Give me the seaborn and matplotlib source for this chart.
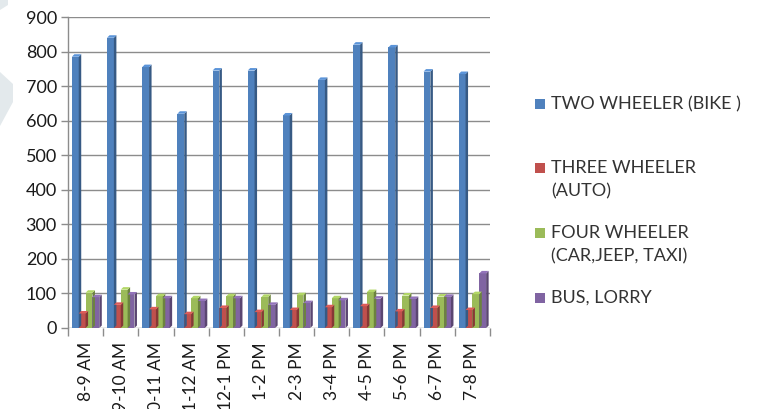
import matplotlib
matplotlib.use("Agg")
import matplotlib.pyplot as plt
import matplotlib.colors as mcolors
from matplotlib.patches import Polygon, Rectangle
import numpy as np
import pandas as pd
import seaborn as sns

# Hourly vehicle counts by vehicle type
time_slots = ["8-9 AM", "9-10 AM", "10-11 AM", "11-12 AM", "12-1 PM", "1-2 PM",
              "2-3 PM", "3-4 PM", "4-5 PM", "5-6 PM", "6-7 PM", "7-8 PM"]
series_names = ["TWO WHEELER (BIKE )", "THREE WHEELER\n(AUTO)",
                "FOUR WHEELER\n(CAR,JEEP, TAXI)", "BUS, LORRY"]
two_wheeler = [785, 840, 755, 620, 745, 745, 615, 718, 820, 812, 742, 735]
three_wheeler = [42, 67, 54, 40, 58, 46, 52, 60, 63, 48, 58, 52]
four_wheeler = [102, 111, 92, 86, 92, 90, 95, 86, 104, 94, 91, 98]
bus_lorry = [89, 97, 86, 78, 86, 67, 72, 80, 85, 84, 90, 158]
y_ticks = [0, 100, 200, 300, 400, 500, 600, 700, 800, 900]

colors = ["#4F81BD", "#C0504D", "#9BBB59", "#8064A2"]

df = pd.DataFrame({
    "slot": time_slots * 4,
    "type": np.repeat(series_names, len(time_slots)),
    "count": two_wheeler + three_wheeler + four_wheeler + bus_lorry,
})

sns.set_theme(style="white")
plt.rcParams["font.family"] = ["Lato", "DejaVu Sans"]

W, H, DPI = 758, 409, 100
fig = plt.figure(figsize=(W / DPI, H / DPI), dpi=DPI)

# faint page mark along the left edge
for pts in ([(0, 0), (8, 0), (8, 5), (0, 10)],
            [(0, 72), (13, 84), (13, 102), (0, 126)]):
    fig.patches.append(Polygon([(x / W, 1 - y / H) for x, y in pts],
                               closed=True, transform=fig.transFigure,
                               facecolor="#e3e9ec", edgecolor="none"))

ax = fig.add_axes([68 / W, (H - 328) / H, (490 - 68) / W, (328 - 17) / H])

sns.barplot(data=df, x="slot", y="count", hue="type", order=time_slots,
            hue_order=series_names, palette=colors, width=0.78,
            saturation=1, legend=False, ax=ax, linewidth=0)

ax.set_xlim(-0.5, len(time_slots) - 0.5)
ax.set_ylim(0, 900)
ax.set_yticks(y_ticks)
ax.set_xlabel("")
ax.set_ylabel("")

grid_c = "#8c8c8c"
for v in y_ticks:
    ax.axhline(v, color=grid_c, lw=1.0, zorder=0)
for s in ["top", "right", "bottom"]:
    ax.spines[s].set_visible(False)
ax.spines["left"].set_color(grid_c)
ax.spines["left"].set_linewidth(1.0)

ax.tick_params(axis="y", length=5, width=1, color=grid_c, labelsize=13,
               labelcolor="#1a1a1a", pad=3, left=True)
ax.set_xticks(np.arange(len(time_slots)))
ax.set_xticklabels(time_slots, rotation=90, fontsize=12.5, color="#1a1a1a")
ax.tick_params(axis="x", which="major", length=0, pad=10)
ax.set_xticks(np.arange(len(time_slots) + 1) - 0.5, minor=True)
ax.tick_params(axis="x", which="minor", length=6, width=1, color=grid_c,
               bottom=True)

# Give each column a shaded side face and a lit top face
d = 2.5
to_data = ax.transData.inverted()
for patch in list(ax.patches):
    if not isinstance(patch, Rectangle) or patch.get_height() <= 0:
        continue
    x0, y0 = patch.get_x(), patch.get_y()
    x1, y1 = x0 + patch.get_width(), y0 + patch.get_height()
    (px0, py0), (px1, py1) = ax.transData.transform([(x0, y0), (x1, y1)])
    base = np.array(mcolors.to_rgb(patch.get_facecolor()))
    side = [(px1, py0), (px1 + d, py0 + d), (px1 + d, py1 + d), (px1, py1)]
    top = [(px0, py1), (px0 + d, py1 + d), (px1 + d, py1 + d), (px1, py1)]
    ax.add_patch(Polygon(to_data.transform(side), closed=True,
                         facecolor=base * 0.7, edgecolor="none", zorder=3))
    ax.add_patch(Polygon(to_data.transform(top), closed=True,
                         facecolor=np.clip(base * 1.15, 0, 1), edgecolor="none",
                         zorder=3))
    patch.set_zorder(2.5)

# Legend on the right
legend_y = [104, 168, 233, 298]
for name, c, ly in zip(series_names, colors, legend_y):
    fig.patches.append(Rectangle((535 / W, (H - ly - 5) / H), 10 / W, 10 / H,
                                 transform=fig.transFigure, facecolor=c,
                                 edgecolor="none"))
    fig.text(551 / W, (H - ly + 8) / H, name, fontsize=13, color="#333333",
             va="top", ha="left", linespacing=1.55)

fig.savefig("out.png", dpi=DPI)
